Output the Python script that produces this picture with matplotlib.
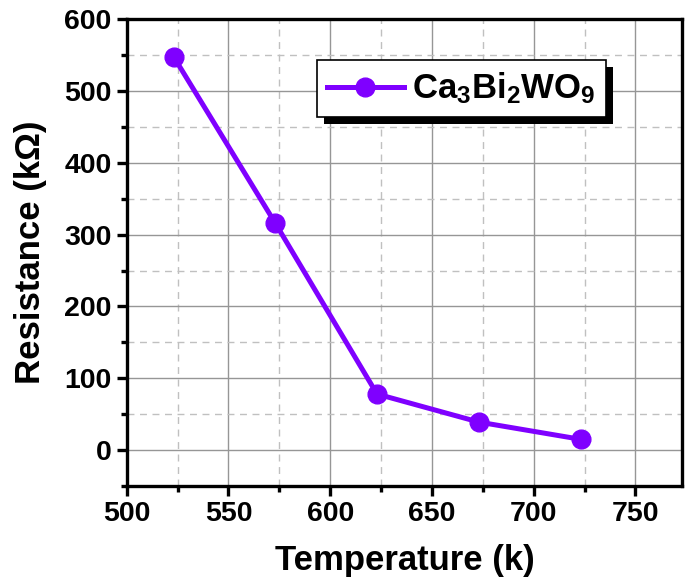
import matplotlib
matplotlib.use('Agg')
import matplotlib.pyplot as plt
import matplotlib.patheffects as pe
from matplotlib.ticker import MultipleLocator

plt.rcParams['font.family'] = ['Liberation Sans', 'DejaVu Sans']
plt.rcParams['font.weight'] = 'bold'
plt.rcParams['mathtext.fontset'] = 'custom'
plt.rcParams['mathtext.rm'] = 'Liberation Sans:bold'
plt.rcParams['mathtext.default'] = 'regular'

C_LINE = '#7f00ff'

temperature_k = [523, 573, 623, 673, 723]
resistance_kohm = [548, 316, 78, 39, 15]

fig = plt.figure(figsize=(6.85, 5.82), dpi=100)
ax = fig.add_axes([0.185, 0.165, 0.811, 0.802])

ax.plot(temperature_k, resistance_kohm, color=C_LINE, linewidth=3.6,
        marker='o', markersize=13.5, label='Ca$_3$Bi$_2$WO$_9$', zorder=3)

ax.set_xlim(500, 773)
ax.set_ylim(-50, 600)
ax.xaxis.set_major_locator(MultipleLocator(50))
ax.xaxis.set_minor_locator(MultipleLocator(25))
ax.yaxis.set_major_locator(MultipleLocator(100))
ax.yaxis.set_minor_locator(MultipleLocator(50))

ax.grid(which='major', color='#969696', linewidth=1.0, linestyle='-')
ax.grid(which='minor', color='#c0c0c0', linewidth=1.0, linestyle=(0, (5, 4)))
ax.set_axisbelow(True)

for side in ax.spines.values():
    side.set_linewidth(2.4)
ax.tick_params(which='major', direction='out', length=7, width=2.4,
               labelsize=20.5, pad=4)
ax.tick_params(which='minor', direction='out', length=4, width=2.4)
for lbl in ax.get_xticklabels() + ax.get_yticklabels():
    lbl.set_fontweight('bold')

ax.set_xlabel('Temperature (k)', fontsize=25, fontweight='bold', labelpad=12)
ax.set_ylabel('Resistance (k\u03a9)', fontsize=25, fontweight='bold',
              labelpad=12)

leg = ax.legend(loc='upper left', bbox_to_anchor=(0.342, 0.912),
                borderaxespad=0, fontsize=25, fancybox=False, framealpha=1,
                edgecolor='black', handlelength=2.2, borderpad=0.3,
                handletextpad=0.25)
frame = leg.get_frame()
frame.set_linewidth(1.2)
frame.set_path_effects([
    pe.SimplePatchShadow(offset=(5, -5), shadow_rgbFace='black', alpha=1),
    pe.Normal()])

fig.savefig('out.png', dpi=100)
